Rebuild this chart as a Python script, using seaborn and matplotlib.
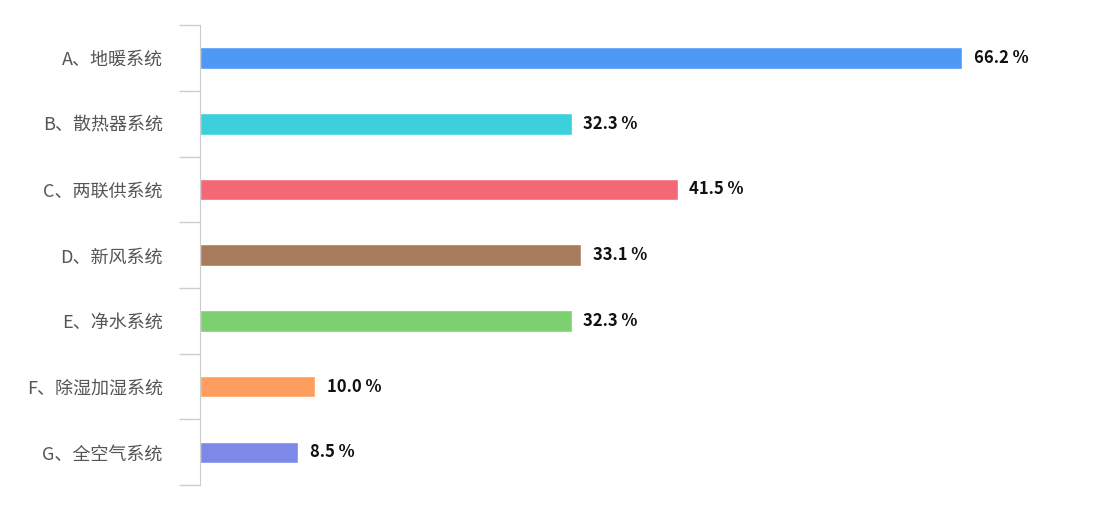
import matplotlib
matplotlib.use('Agg')
import matplotlib.pyplot as plt
import seaborn as sns
import numpy as np

categories = ['A、地暖系统', 'B、散热器系统', 'C、两联供系统', 'D、新风系统',
              'E、净水系统', 'F、除湿加湿系统', 'G、全空气系统']
values = [66.2, 32.3, 41.5, 33.1, 32.3, 10.0, 8.5]
colors = ['#4f98f6', '#3ccfdc', '#f26875', '#a97b5d', '#7dd06f', '#fe9e5e', '#7d89e8']

sns.set_style('white')
plt.rcParams['font.family'] = ['Noto Sans CJK SC', 'DejaVu Sans']

fig = plt.figure(figsize=(11.06, 5.14), dpi=100)
ax = fig.add_axes([0.181, 0.056, 0.819, 0.895])
sns.barplot(x=values, y=categories, hue=categories, palette=colors, saturation=1,
            width=0.33, legend=False, ax=ax, orient='h')
ax.set_xlim(0, 78.7)
ax.set_ylim(len(categories) - 0.5, -0.5)

for i, v in enumerate(values):
    ax.text(v + 1.0, i, f'{v:.1f} %', va='center', ha='left',
            fontsize=12, fontweight='bold', color='#111111')

for s in ['top', 'right', 'bottom']:
    ax.spines[s].set_visible(False)
ax.spines['left'].set_color('#cccccc')
ax.set_xticks([])
ax.set_xlabel('')
ax.set_ylabel('')
ax.set_yticks(np.arange(len(categories) + 1) - 0.5, minor=True)
ax.tick_params(axis='y', which='minor', left=True, length=15, color='#cccccc', width=1)
ax.tick_params(axis='y', which='major', left=False, length=0, pad=27, labelsize=13,
               labelcolor='#555555')

fig.savefig('out.png', dpi=100)
